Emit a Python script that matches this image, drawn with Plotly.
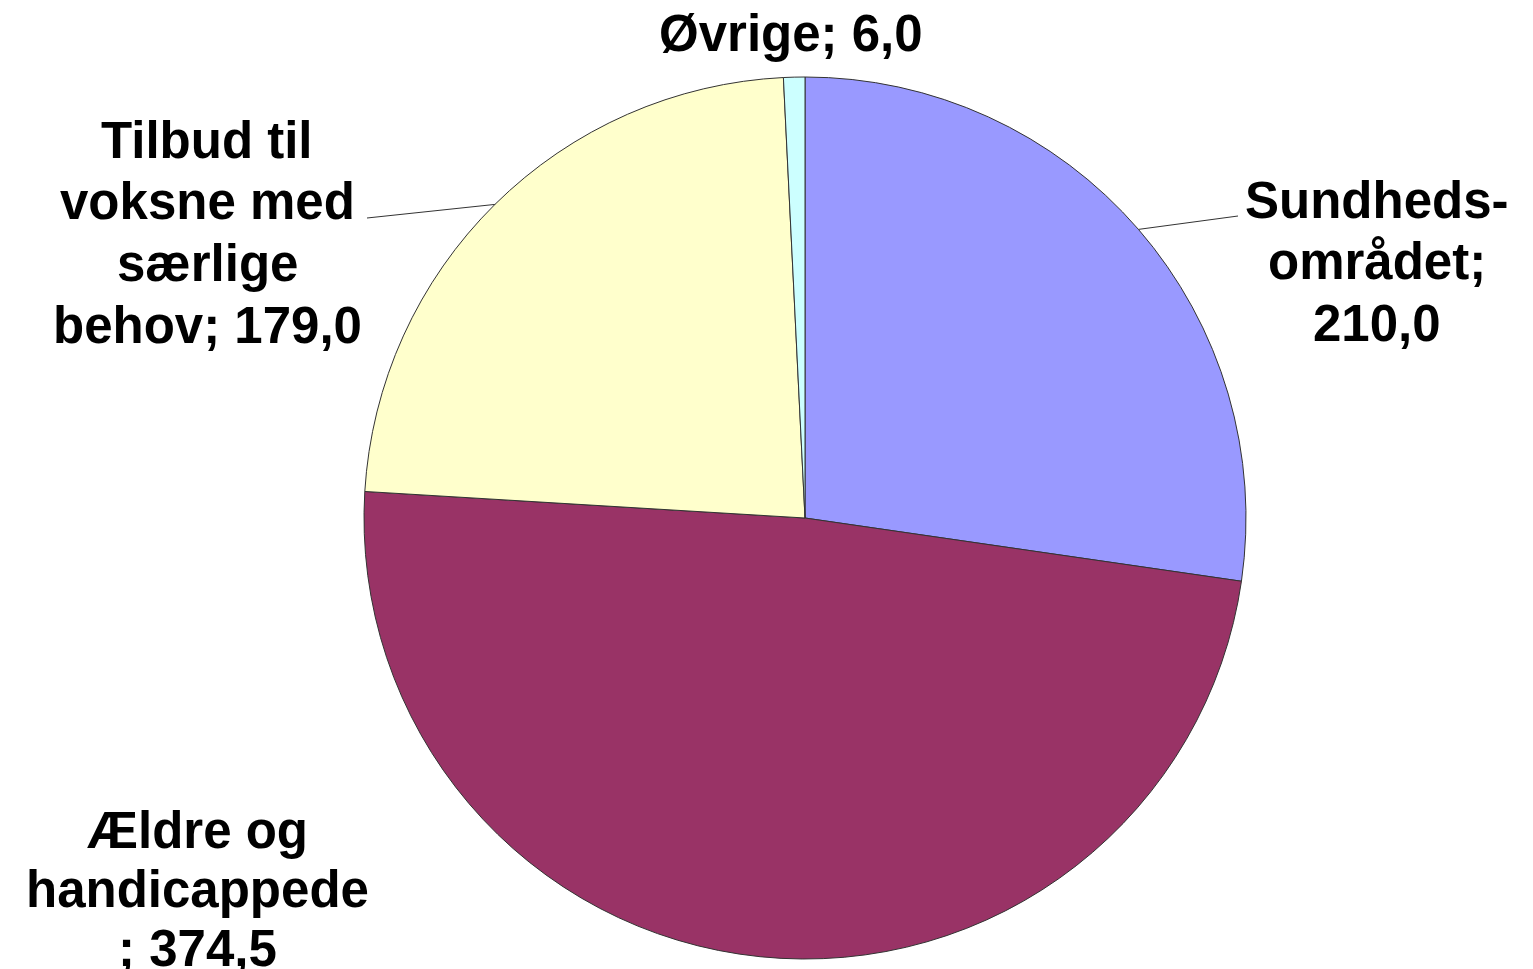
import math
import plotly.graph_objects as go

categories = ["Sundhedsområdet", "Ældre og handicappede", "Tilbud til voksne med særlige behov", "Øvrige"]
values = [210.0, 374.5, 179.0, 6.0]
label_lines = [
    ["Sundheds-", "området;", "210,0"],
    ["Ældre og", "handicappede", "; 374,5"],
    ["Tilbud til", "voksne med", "særlige", "behov; 179,0"],
    ["Øvrige; 6,0"],
]
colors = ["#9999FF", "#993366", "#FFFFCC", "#CCFFFF"]

# page has an 8px body margin; target coordinates are screen pixels
OFF = 8
W, H = 1533 - OFF, 969 - OFF
CX, CY, R = 805, 518, 441
FONT = "Liberation Sans, Arial, sans-serif"
FS = 51

# label centre x and first-line cap-centre y, line step (pixels)
label_pos = [(1377, 200, 61.5), (197, 830, 59), (207, 140, 61.7), (791, 33, 0)]
line_end = [(1238, 216), None, (367, 218), None]


def px(x):
    return (x - OFF) / W


def py(y):
    return 1 - (y - OFF) / H


fig = go.Figure(go.Pie(
    labels=categories,
    values=values,
    sort=False,
    direction="clockwise",
    rotation=0,
    marker=dict(colors=colors, line=dict(color="#333333", width=1)),
    textinfo="none",
    hoverinfo="label+value",
    domain=dict(x=[px(CX - R), px(CX + R)], y=[py(CY + R), py(CY - R)]),
    showlegend=False,
))

total = sum(values)
cum = 0.0
annotations = []
shapes = []
for i, v in enumerate(values):
    mid = (cum + v / 2) / total * 2 * math.pi
    cum += v
    ex = CX + R * math.sin(mid)
    ey = CY - R * math.cos(mid)
    lx, ly, step = label_pos[i]
    for j, line in enumerate(label_lines[i]):
        annotations.append(dict(
            x=px(lx), y=py(ly + j * step), xref="paper", yref="paper",
            text="<b>" + line + "</b>", showarrow=False,
            xanchor="center", yanchor="middle", align="center",
            font=dict(family=FONT, size=FS, color="#000000"),
        ))
    if line_end[i] is not None:
        lex, ley = line_end[i]
        shapes.append(dict(
            type="line", xref="paper", yref="paper",
            x0=px(ex), y0=py(ey), x1=px(lex), y1=py(ley),
            line=dict(color="#333333", width=1),
        ))

fig.update_layout(
    width=W, height=H,
    margin=dict(l=0, r=0, t=0, b=0),
    paper_bgcolor="white", plot_bgcolor="white",
    annotations=annotations,
    shapes=shapes,
)

fig.write_html("out.html")
